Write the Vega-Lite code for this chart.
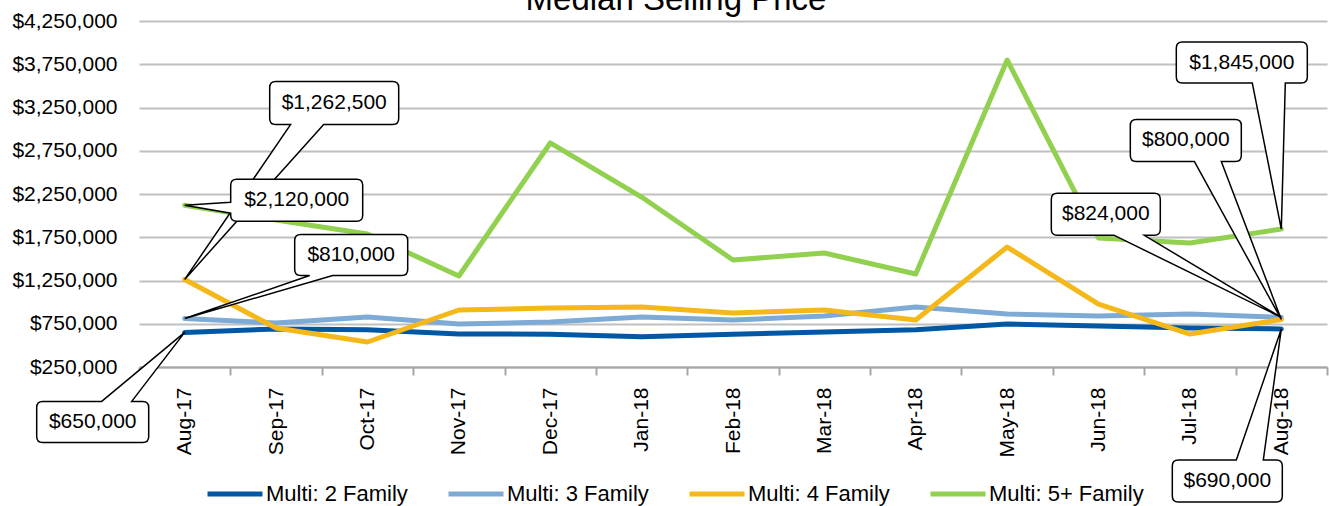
{
  "$schema": "https://vega.github.io/schema/vega-lite/v6.json",
  "autosize": {"type": "none"},
  "padding": {"left": 139, "top": 21, "right": 2, "bottom": 139},
  "width": 1188,
  "height": 346,
  "background": "white",
  "config": {
    "font": "Liberation Sans",
    "view": {"stroke": null},
    "legend": {
      "orient": "none",
      "legendX": 66,
      "legendY": 443,
      "direction": "horizontal",
      "symbolType": "stroke",
      "symbolSize": 3025,
      "symbolStrokeWidth": 5,
      "labelFontSize": 22,
      "labelColor": "black",
      "labelFont": "Liberation Sans",
      "columnPadding": 30,
      "labelOffset": 1,
      "padding": 0
    }
  },
  "title": {
    "text": "Median Selling Price",
    "fontSize": 33,
    "fontWeight": "normal",
    "font": "Liberation Sans",
    "color": "black",
    "anchor": "middle",
    "frame": "group",
    "dx": -57,
    "offset": -33,
    "baseline": "alphabetic"
  },
  "data": {
    "values": [
      {"month": "Aug-17", "series": "Multi: 2 Family", "value": 650000},
      {"month": "Sep-17", "series": "Multi: 2 Family", "value": 689000},
      {"month": "Oct-17", "series": "Multi: 2 Family", "value": 680000},
      {"month": "Nov-17", "series": "Multi: 2 Family", "value": 631000},
      {"month": "Dec-17", "series": "Multi: 2 Family", "value": 630000},
      {"month": "Jan-18", "series": "Multi: 2 Family", "value": 600000},
      {"month": "Feb-18", "series": "Multi: 2 Family", "value": 630000},
      {"month": "Mar-18", "series": "Multi: 2 Family", "value": 655000},
      {"month": "Apr-18", "series": "Multi: 2 Family", "value": 680000},
      {"month": "May-18", "series": "Multi: 2 Family", "value": 747000},
      {"month": "Jun-18", "series": "Multi: 2 Family", "value": 724000},
      {"month": "Jul-18", "series": "Multi: 2 Family", "value": 700000},
      {"month": "Aug-18", "series": "Multi: 2 Family", "value": 690000},
      {"month": "Aug-17", "series": "Multi: 3 Family", "value": 810000},
      {"month": "Sep-17", "series": "Multi: 3 Family", "value": 759000},
      {"month": "Oct-17", "series": "Multi: 3 Family", "value": 828000},
      {"month": "Nov-17", "series": "Multi: 3 Family", "value": 747000},
      {"month": "Dec-17", "series": "Multi: 3 Family", "value": 770000},
      {"month": "Jan-18", "series": "Multi: 3 Family", "value": 828000},
      {"month": "Feb-18", "series": "Multi: 3 Family", "value": 793000},
      {"month": "Mar-18", "series": "Multi: 3 Family", "value": 840000},
      {"month": "Apr-18", "series": "Multi: 3 Family", "value": 944000},
      {"month": "May-18", "series": "Multi: 3 Family", "value": 863000},
      {"month": "Jun-18", "series": "Multi: 3 Family", "value": 840000},
      {"month": "Jul-18", "series": "Multi: 3 Family", "value": 863000},
      {"month": "Aug-18", "series": "Multi: 3 Family", "value": 824000},
      {"month": "Aug-17", "series": "Multi: 4 Family", "value": 1262500},
      {"month": "Sep-17", "series": "Multi: 4 Family", "value": 700000},
      {"month": "Oct-17", "series": "Multi: 4 Family", "value": 539000},
      {"month": "Nov-17", "series": "Multi: 4 Family", "value": 909000},
      {"month": "Dec-17", "series": "Multi: 4 Family", "value": 932000},
      {"month": "Jan-18", "series": "Multi: 4 Family", "value": 944000},
      {"month": "Feb-18", "series": "Multi: 4 Family", "value": 874000},
      {"month": "Mar-18", "series": "Multi: 4 Family", "value": 909000},
      {"month": "Apr-18", "series": "Multi: 4 Family", "value": 793000},
      {"month": "May-18", "series": "Multi: 4 Family", "value": 1637000},
      {"month": "Jun-18", "series": "Multi: 4 Family", "value": 978000},
      {"month": "Jul-18", "series": "Multi: 4 Family", "value": 631000},
      {"month": "Aug-18", "series": "Multi: 4 Family", "value": 800000},
      {"month": "Aug-17", "series": "Multi: 5+ Family", "value": 2120000},
      {"month": "Sep-17", "series": "Multi: 5+ Family", "value": 1950000},
      {"month": "Oct-17", "series": "Multi: 5+ Family", "value": 1788000},
      {"month": "Nov-17", "series": "Multi: 5+ Family", "value": 1302000},
      {"month": "Dec-17", "series": "Multi: 5+ Family", "value": 2840000},
      {"month": "Jan-18", "series": "Multi: 5+ Family", "value": 2215000},
      {"month": "Feb-18", "series": "Multi: 5+ Family", "value": 1487000},
      {"month": "Mar-18", "series": "Multi: 5+ Family", "value": 1568000},
      {"month": "Apr-18", "series": "Multi: 5+ Family", "value": 1325000},
      {"month": "May-18", "series": "Multi: 5+ Family", "value": 3799000},
      {"month": "Jun-18", "series": "Multi: 5+ Family", "value": 1741000},
      {"month": "Jul-18", "series": "Multi: 5+ Family", "value": 1683000},
      {"month": "Aug-18", "series": "Multi: 5+ Family", "value": 1845000}
    ]
  },
  "encoding": {
    "x": {
      "field": "month",
      "type": "ordinal",
      "sort": ["Aug-17", "Sep-17", "Oct-17", "Nov-17", "Dec-17", "Jan-18", "Feb-18", "Mar-18", "Apr-18", "May-18", "Jun-18", "Jul-18", "Aug-18"],
      "bandPosition": 0.5,
      "scale": {"type": "band", "paddingInner": 0, "paddingOuter": 0},
      "axis": {
        "title": null,
        "grid": false,
        "domain": true,
        "domainColor": "#A6A6A6",
        "domainWidth": 2,
        "ticks": true,
        "tickBand": "extent",
        "tickSize": 8,
        "tickColor": "#A6A6A6",
        "tickWidth": 2,
        "labelAngle": -90,
        "labelAlign": "right",
        "labelBaseline": "middle",
        "labelFontSize": 21,
        "labelColor": "black",
        "labelPadding": 12
      }
    },
    "y": {
      "field": "value",
      "type": "quantitative",
      "scale": {"domain": [250000, 4250000], "nice": false, "zero": false},
      "axis": {
        "title": null,
        "values": [250000, 750000, 1250000, 1750000, 2250000, 2750000, 3250000, 3750000, 4250000],
        "format": "$,.0f",
        "domain": false,
        "ticks": false,
        "grid": true,
        "gridColor": "#C0C0C0",
        "gridWidth": 2,
        "labelFontSize": 21,
        "labelColor": "black",
        "labelPadding": 22
      }
    }
  },
  "layer": [
    {
      "mark": {"type": "line", "strokeWidth": 5, "strokeCap": "round", "strokeJoin": "round"},
      "encoding": {
        "color": {
          "field": "series",
          "type": "nominal",
          "title": null,
          "scale": {
            "domain": ["Multi: 2 Family", "Multi: 3 Family", "Multi: 4 Family", "Multi: 5+ Family"],
            "range": ["#0057A4", "#7EABD5", "#F4B81A", "#92D050"]
          }
        }
      }
    },
    {
      "transform": [{"filter": "datum.month == 'Aug-17' && datum.series == 'Multi: 4 Family'"}],
      "layer": [
        {"mark": {"type": "point", "shape": "M106,-155 L0,0 L139,-155 L208,-155 Q214,-155 214,-161 L214,-192 Q214,-198 208,-198 L91,-198 Q85,-198 85,-192 L85,-161 Q85,-155 91,-155 Z", "size": 4, "filled": true, "fill": "white", "stroke": "black", "strokeWidth": 1.5, "opacity": 1}},
        {"mark": {"type": "text", "dx": 149.5, "dy": -176.5, "fontSize": 21, "align": "center", "baseline": "middle", "color": "black"}, "encoding": {"text": {"field": "value", "type": "quantitative", "format": "$,.0f"}}}
      ]
    },
    {
      "transform": [{"filter": "datum.month == 'Aug-17' && datum.series == 'Multi: 5+ Family'"}],
      "layer": [
        {"mark": {"type": "point", "shape": "M46,-3 L0,0 L46,8 L46,10 Q46,16 52,16 L172,16 Q178,16 178,10 L178,-20 Q178,-26 172,-26 L52,-26 Q46,-26 46,-20 Z", "size": 4, "filled": true, "fill": "white", "stroke": "black", "strokeWidth": 1.5, "opacity": 1}},
        {"mark": {"type": "text", "dx": 112, "dy": -5, "fontSize": 21, "align": "center", "baseline": "middle", "color": "black"}, "encoding": {"text": {"field": "value", "type": "quantitative", "format": "$,.0f"}}}
      ]
    },
    {
      "transform": [{"filter": "datum.month == 'Aug-17' && datum.series == 'Multi: 3 Family'"}],
      "layer": [
        {"mark": {"type": "point", "shape": "M125,-43 L0,0 L148,-43 L217,-43 Q223,-43 223,-49 L223,-78 Q223,-84 217,-84 L116,-84 Q110,-84 110,-78 L110,-49 Q110,-43 116,-43 Z", "size": 4, "filled": true, "fill": "white", "stroke": "black", "strokeWidth": 1.5, "opacity": 1}},
        {"mark": {"type": "text", "dx": 166.5, "dy": -63.5, "fontSize": 21, "align": "center", "baseline": "middle", "color": "black"}, "encoding": {"text": {"field": "value", "type": "quantitative", "format": "$,.0f"}}}
      ]
    },
    {
      "transform": [{"filter": "datum.month == 'Aug-17' && datum.series == 'Multi: 2 Family'"}],
      "layer": [
        {"mark": {"type": "point", "shape": "M-83,69 L0,0 L-53,69 L-42,69 Q-36,69 -36,75 L-36,104 Q-36,110 -42,110 L-142,110 Q-148,110 -148,104 L-148,75 Q-148,69 -142,69 Z", "size": 4, "filled": true, "fill": "white", "stroke": "black", "strokeWidth": 1.5, "opacity": 1}},
        {"mark": {"type": "text", "dx": -92, "dy": 89.5, "fontSize": 21, "align": "center", "baseline": "middle", "color": "black"}, "encoding": {"text": {"field": "value", "type": "quantitative", "format": "$,.0f"}}}
      ]
    },
    {
      "transform": [{"filter": "datum.month == 'Aug-18' && datum.series == 'Multi: 5+ Family'"}],
      "layer": [
        {"mark": {"type": "point", "shape": "M-29,-146 L0,0 L4,-146 L20,-146 Q26,-146 26,-152 L26,-181 Q26,-187 20,-187 L-99,-187 Q-105,-187 -105,-181 L-105,-152 Q-105,-146 -99,-146 Z", "size": 4, "filled": true, "fill": "white", "stroke": "black", "strokeWidth": 1.5, "opacity": 1}},
        {"mark": {"type": "text", "dx": -39.5, "dy": -166.5, "fontSize": 21, "align": "center", "baseline": "middle", "color": "black"}, "encoding": {"text": {"field": "value", "type": "quantitative", "format": "$,.0f"}}}
      ]
    },
    {
      "transform": [{"filter": "datum.month == 'Aug-18' && datum.series == 'Multi: 4 Family'"}],
      "layer": [
        {"mark": {"type": "point", "shape": "M-87,-158 L0,0 L-60,-158 L-46,-158 Q-40,-158 -40,-164 L-40,-194 Q-40,-200 -46,-200 L-145,-200 Q-151,-200 -151,-194 L-151,-164 Q-151,-158 -145,-158 Z", "size": 4, "filled": true, "fill": "white", "stroke": "black", "strokeWidth": 1.5, "opacity": 1}},
        {"mark": {"type": "text", "dx": -95.5, "dy": -179, "fontSize": 21, "align": "center", "baseline": "middle", "color": "black"}, "encoding": {"text": {"field": "value", "type": "quantitative", "format": "$,.0f"}}}
      ]
    },
    {
      "transform": [{"filter": "datum.month == 'Aug-18' && datum.series == 'Multi: 3 Family'"}],
      "layer": [
        {"mark": {"type": "point", "shape": "M-167,-82 L0,0 L-137,-82 L-127,-82 Q-121,-82 -121,-88 L-121,-118 Q-121,-124 -127,-124 L-224,-124 Q-230,-124 -230,-118 L-230,-88 Q-230,-82 -224,-82 Z", "size": 4, "filled": true, "fill": "white", "stroke": "black", "strokeWidth": 1.5, "opacity": 1}},
        {"mark": {"type": "text", "dx": -175.5, "dy": -103, "fontSize": 21, "align": "center", "baseline": "middle", "color": "black"}, "encoding": {"text": {"field": "value", "type": "quantitative", "format": "$,.0f"}}}
      ]
    },
    {
      "transform": [{"filter": "datum.month == 'Aug-18' && datum.series == 'Multi: 2 Family'"}],
      "layer": [
        {"mark": {"type": "point", "shape": "M-45,131 L0,0 L-18,131 L-5,131 Q1,131 1,137 L1,167 Q1,173 -5,173 L-103,173 Q-109,173 -109,167 L-109,137 Q-109,131 -103,131 Z", "size": 4, "filled": true, "fill": "white", "stroke": "black", "strokeWidth": 1.5, "opacity": 1}},
        {"mark": {"type": "text", "dx": -54, "dy": 152, "fontSize": 21, "align": "center", "baseline": "middle", "color": "black"}, "encoding": {"text": {"field": "value", "type": "quantitative", "format": "$,.0f"}}}
      ]
    }
  ]
}
